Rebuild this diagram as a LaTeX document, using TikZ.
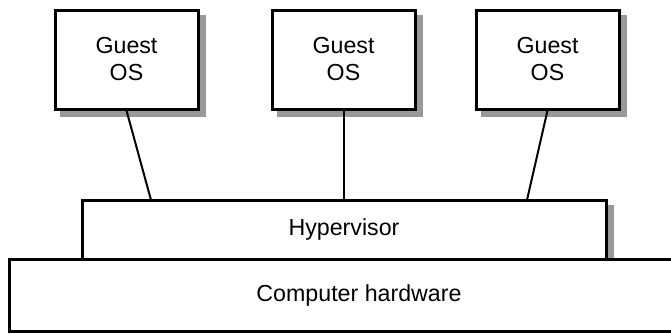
\documentclass[tikz,border=0pt]{standalone}
\usepackage{fontspec}
\setmainfont{Liberation Sans}
\usepackage{tikz}
\usetikzlibrary{backgrounds}

\begin{document}
\begin{tikzpicture}[x=0.5pt,y=-0.5pt,
    box/.style={draw,line width=1.5pt,fill=white,align=center,inner sep=0pt,
        font=\fontsize{11.6}{13.5}\selectfont},
    guest/.style={box,minimum width=71.5pt,minimum height=49.5pt},
    boxshadow/.style={fill=black!40,draw=none},
    link/.style={line width=1pt}]
            \useasboundingbox (0,0) rectangle (671,333);
            \node[guest](g1) at (126.5,59.5) {Guest\\OS};
            \node[guest](g2) at (343.5,59.5) {Guest\\OS};
            \node[guest](g3) at (547.5,59.5) {Guest\\OS};
            \node[box,minimum width=262pt,minimum height=29.5pt](hyp) at (344,229.5) {Hypervisor};
            \node[box,minimum width=350pt,minimum height=36pt](hw) at (359,295) {Computer hardware};
            % shadows behind the boxes
            \begin{scope}[on background layer]
                \foreach \n in {g1,g2,g3,hyp}
                    \fill[boxshadow] ([shift={(6,6)}]\n.north west) rectangle ([shift={(6,6)}]\n.south east);
            \end{scope}
            \coordinate (j1) at (151,200);
            \coordinate (j3) at (527,200);
            \draw[link] (g1.south) -- (j1);
            \draw[link] (g2.south) -- (g2.south |- hyp.north);
            \draw[link] (g3.south) -- (j3);
        \end{tikzpicture}
\end{document}
